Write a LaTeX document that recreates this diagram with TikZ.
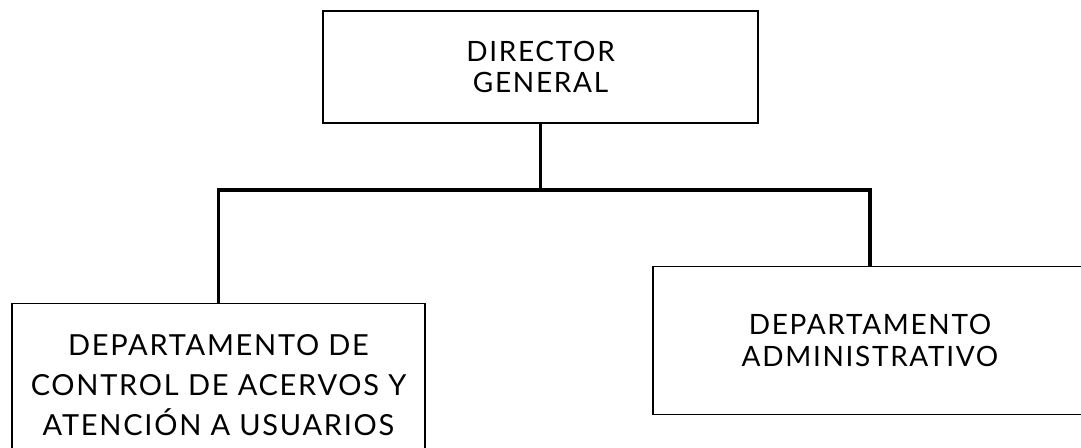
\documentclass[tikz,border=0pt]{standalone}
\usepackage{fontspec}
\setmainfont[LetterSpace=6]{Lato}
\usepackage{tikz}
\usetikzlibrary{positioning}

\begin{document}
\begin{tikzpicture}[x=1pt, y=1pt,
    every node/.style={font=\fontsize{28}{31.5}\selectfont, align=center},
    unit/.style={draw, line width=1.6pt, minimum width=434pt, inner sep=0pt},
    link/.style={line width=3.6pt}]
        \useasboundingbox (0,0) rectangle (1081,-447);
        \clip (0,0) rectangle (1081,-447);
        % Director
        \node[unit, minimum width=435pt, minimum height=112pt] (dg) at (540.5,-67) {DIRECTOR\\GENERAL};
        % Departamentos
        \node[unit, minimum width=413pt, minimum height=164pt, below=179pt of dg, xshift=-322pt,
              font=\fontsize{29}{40}\selectfont] (acervos) {DEPARTAMENTO DE\\CONTROL DE ACERVOS Y\\ATENCIÓN A USUARIOS};
        \node[unit, minimum height=148pt, below=142pt of dg, xshift=329.5pt] (admin) {DEPARTAMENTO\\ADMINISTRATIVO};
        % Lineas
        \draw[link] (dg.south) -- ++(0,-66) coordinate (fork);
        \draw[link] (fork) -| (acervos.north);
        \draw[link] (fork) -| (admin.north);
    \end{tikzpicture}
\end{document}
